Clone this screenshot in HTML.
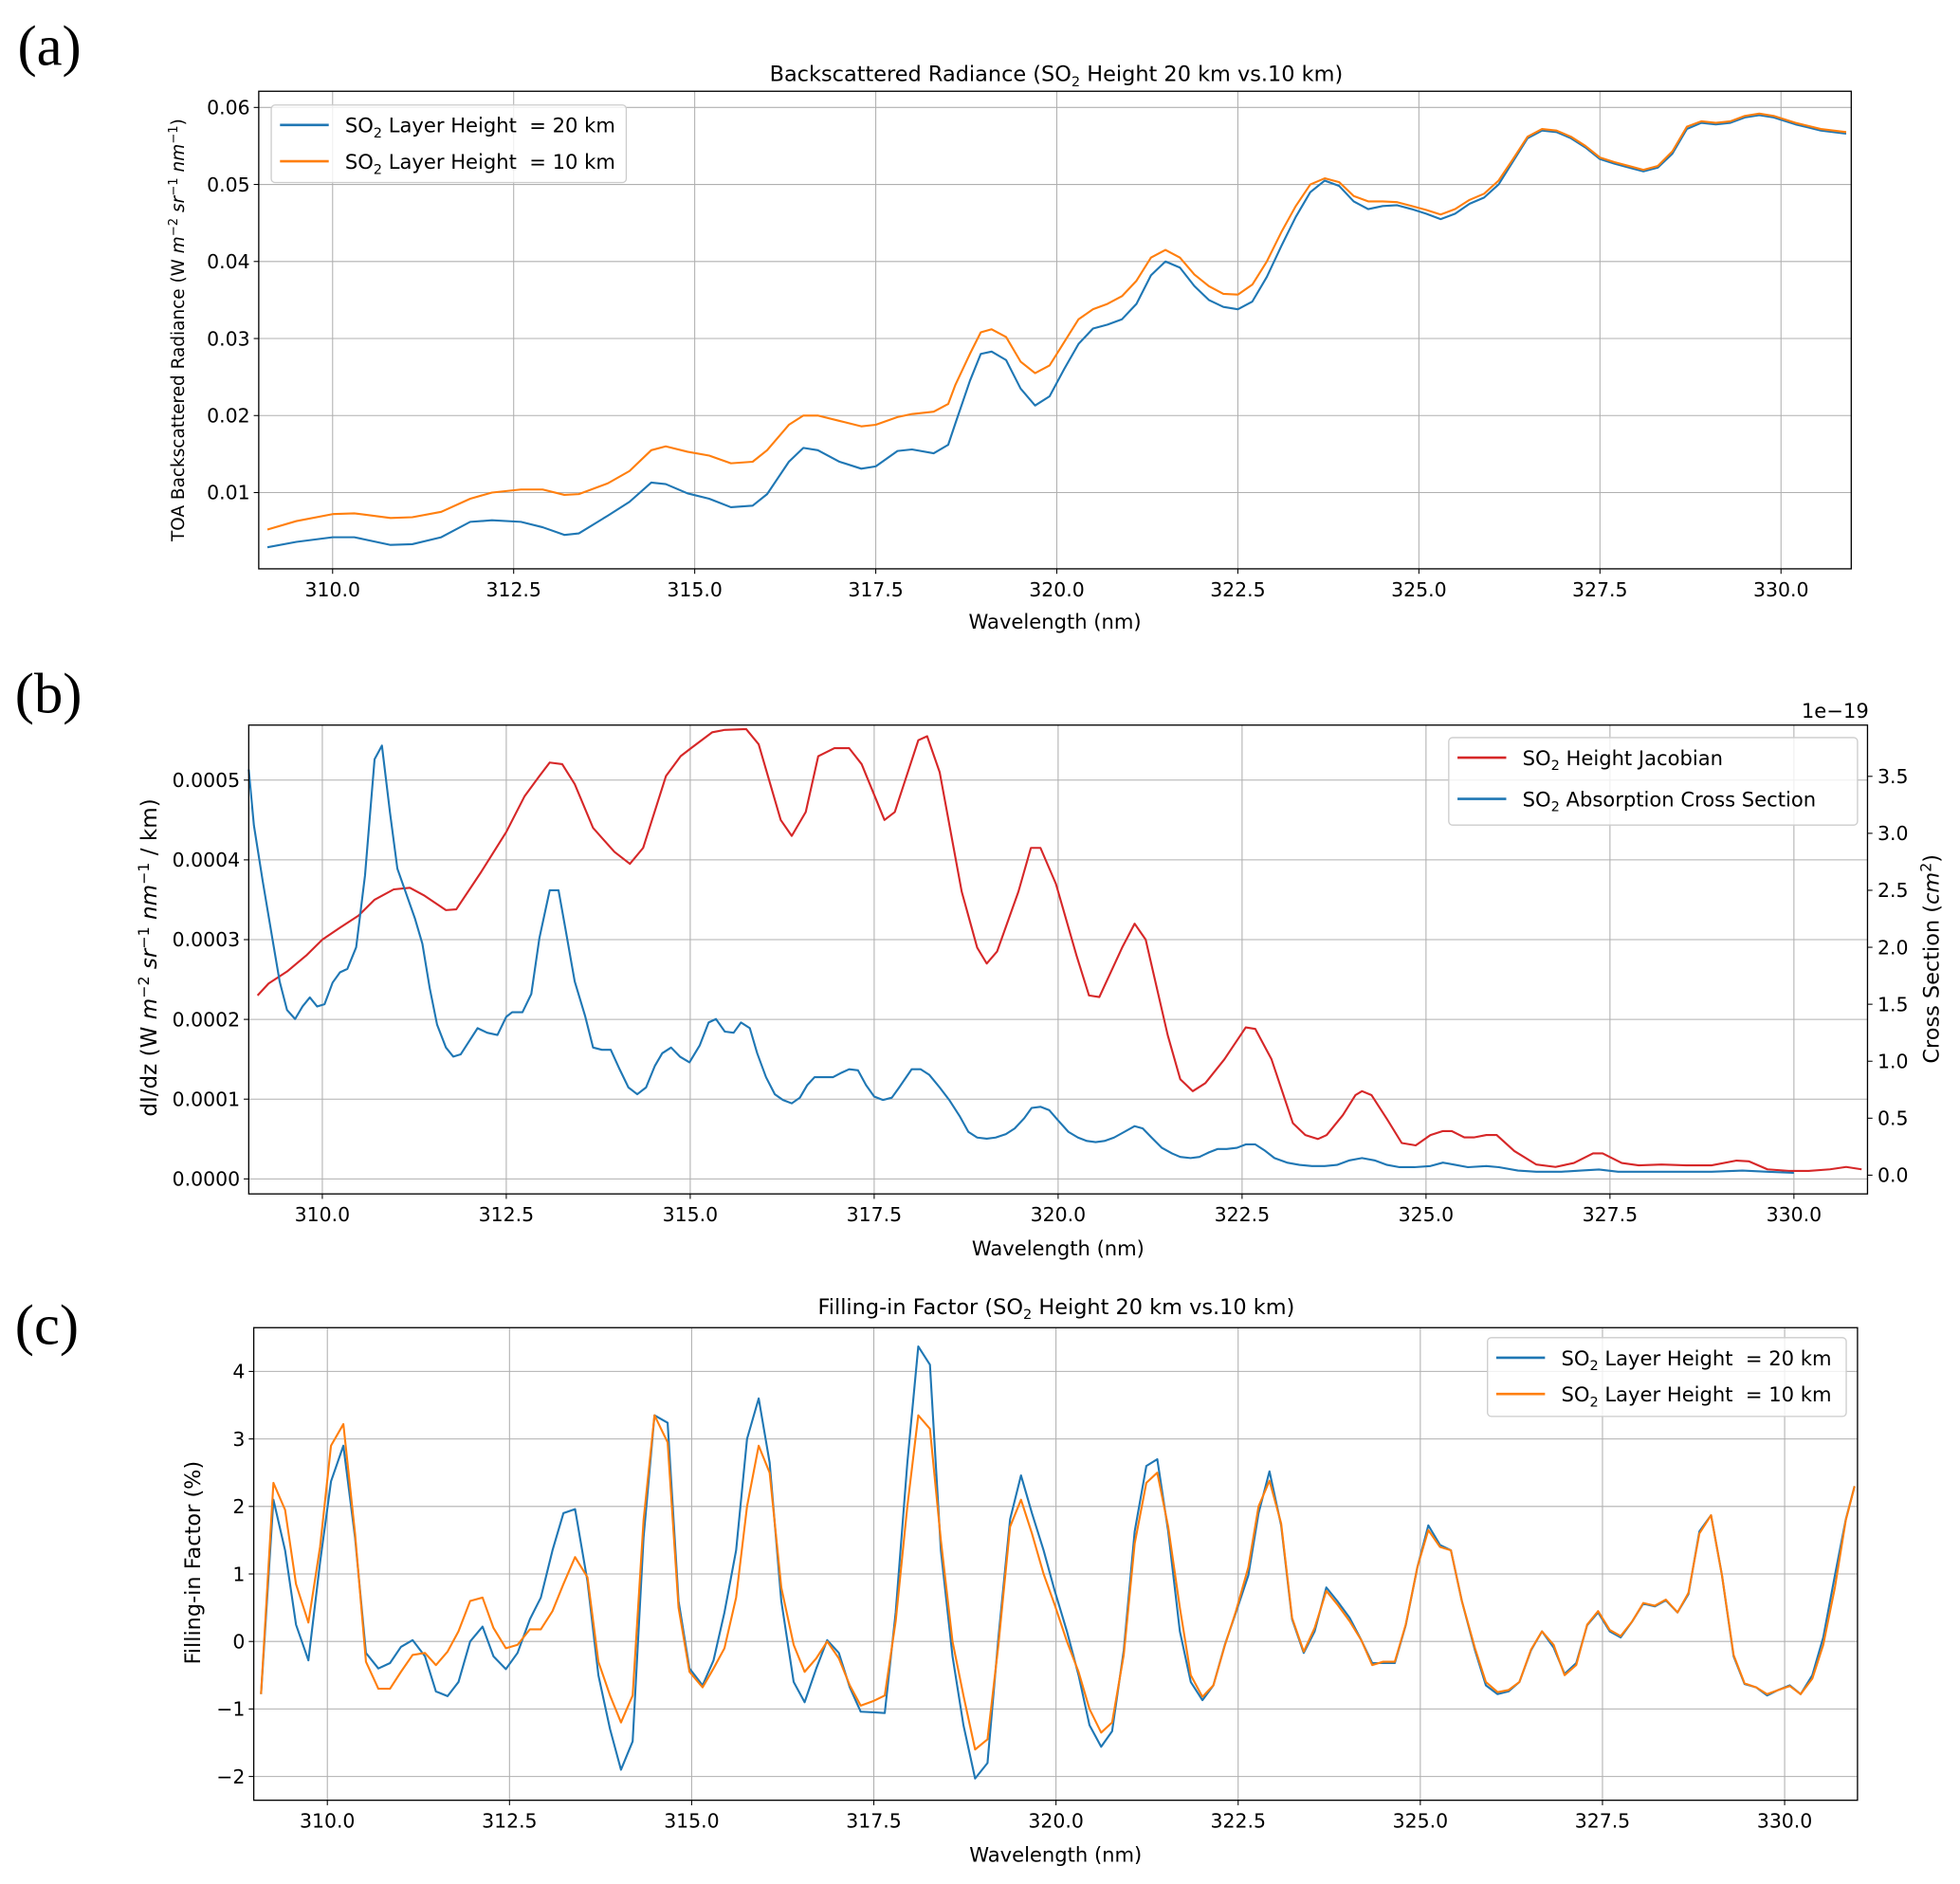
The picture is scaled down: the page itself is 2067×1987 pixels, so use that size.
<!DOCTYPE html>
<html><head><meta charset="utf-8"><style>
html,body{margin:0;padding:0;background:#fff;}
svg{display:block;font-family:"DejaVu Sans","Liberation Sans",sans-serif;}
text{white-space:pre;}
</style></head><body>
<svg id="fig" width="2067" height="1987" viewBox="0 0 1568 1507" preserveAspectRatio="none" xmlns="http://www.w3.org/2000/svg">
<text x="14" y="52" font-family="Liberation Serif" font-size="46">(a)</text>
<text x="12" y="570" font-family="Liberation Serif" font-size="46">(b)</text>
<text x="12" y="1075" font-family="Liberation Serif" font-size="46">(c)</text>
</svg>
<script>
// ---------- Panel (a) data ----------
const aWl=[309.1,309.5,310.0,310.3,310.8,311.1,311.5,311.9,312.2,312.6,312.9,313.2,313.4,313.8,314.1,314.4,314.6,314.9,315.2,315.5,315.8,316.0,316.3,316.5,316.7,317.0,317.3,317.5,317.8,318.0,318.3,318.5,318.6,318.8,318.95,319.1,319.3,319.5,319.7,319.9,320.1,320.3,320.5,320.7,320.9,321.1,321.3,321.5,321.7,321.9,322.1,322.3,322.5,322.7,322.9,323.1,323.3,323.5,323.7,323.9,324.1,324.3,324.5,324.7,324.9,325.1,325.3,325.5,325.7,325.9,326.1,326.3,326.5,326.7,326.9,327.1,327.3,327.5,327.7,327.9,328.1,328.3,328.5,328.7,328.9,329.1,329.3,329.5,329.7,329.9,330.2,330.55,330.9];
const aH20=[0.0029,0.0036,0.0042,0.0042,0.0032,0.0033,0.0042,0.0062,0.0064,0.0062,0.0055,0.0045,0.0047,0.0070,0.0088,0.0113,0.0111,0.0099,0.0092,0.0081,0.0083,0.0098,0.0140,0.0158,0.0155,0.0140,0.0131,0.0134,0.0154,0.0156,0.0151,0.0162,0.0190,0.0245,0.0280,0.0283,0.0272,0.0235,0.0213,0.0225,0.0260,0.0293,0.0313,0.0318,0.0325,0.0345,0.0382,0.0400,0.0392,0.0368,0.0350,0.0341,0.0338,0.0348,0.0380,0.0420,0.0458,0.0490,0.0505,0.0498,0.0478,0.0468,0.0472,0.0473,0.0468,0.0462,0.0455,0.0462,0.0475,0.0483,0.0500,0.0530,0.0560,0.0570,0.0568,0.0560,0.0548,0.0533,0.0527,0.0522,0.0517,0.0522,0.0540,0.0572,0.0580,0.0578,0.0580,0.0587,0.0590,0.0587,0.0578,0.0570,0.0566];
const aH10=[0.0052,0.0063,0.0072,0.0073,0.0067,0.0068,0.0075,0.0092,0.0100,0.0104,0.0104,0.0097,0.0098,0.0112,0.0128,0.0155,0.0160,0.0153,0.0148,0.0138,0.0140,0.0155,0.0188,0.0200,0.0200,0.0193,0.0186,0.0188,0.0198,0.0202,0.0205,0.0215,0.0240,0.0280,0.0308,0.0312,0.0302,0.0270,0.0255,0.0265,0.0295,0.0325,0.0338,0.0345,0.0355,0.0375,0.0405,0.0415,0.0405,0.0383,0.0368,0.0358,0.0357,0.0370,0.0400,0.0438,0.0472,0.0500,0.0508,0.0503,0.0485,0.0478,0.0478,0.0477,0.0472,0.0467,0.0461,0.0468,0.0480,0.0488,0.0505,0.0533,0.0562,0.0572,0.0570,0.0562,0.0550,0.0535,0.0529,0.0524,0.0519,0.0524,0.0543,0.0575,0.0582,0.0580,0.0582,0.0589,0.0592,0.0589,0.0580,0.0572,0.0568];
const aYTicks=[0.01,0.02,0.03,0.04,0.05,0.06];
const xTicks=[310.0,312.5,315.0,317.5,320.0,322.5,325.0,327.5,330.0];
// ---------- Panel (b) data ----------
const bJacWl=[309.12,309.27,309.52,309.78,310.00,310.24,310.49,310.71,310.97,311.19,311.39,311.68,311.82,312.16,312.50,312.75,312.95,313.09,313.26,313.43,313.68,313.97,314.18,314.36,314.67,314.87,315.01,315.30,315.47,315.76,315.93,316.23,316.38,316.57,316.74,316.96,317.16,317.33,317.64,317.78,318.10,318.22,318.39,318.69,318.90,319.03,319.17,319.46,319.63,319.76,319.97,320.25,320.42,320.56,320.87,321.04,321.19,321.49,321.66,321.83,322.00,322.26,322.55,322.68,322.90,323.19,323.36,323.53,323.65,323.87,324.04,324.13,324.26,324.47,324.67,324.86,325.06,325.23,325.35,325.52,325.65,325.82,325.96,326.20,326.50,326.76,327.01,327.27,327.40,327.66,327.89,328.20,328.54,328.88,329.22,329.39,329.64,329.93,330.20,330.49,330.71,330.92];
const bJac=[2.3,2.45,2.6,2.8,3.0,3.15,3.3,3.5,3.63,3.65,3.55,3.37,3.38,3.85,4.35,4.8,5.05,5.22,5.2,4.95,4.4,4.1,3.95,4.15,5.05,5.3,5.4,5.6,5.63,5.64,5.45,4.5,4.3,4.6,5.3,5.4,5.4,5.2,4.5,4.6,5.5,5.55,5.1,3.6,2.9,2.7,2.85,3.6,4.15,4.15,3.7,2.8,2.3,2.28,2.9,3.2,3.0,1.8,1.25,1.1,1.2,1.5,1.9,1.88,1.5,0.7,0.55,0.5,0.55,0.8,1.05,1.1,1.05,0.75,0.45,0.42,0.55,0.6,0.6,0.52,0.52,0.55,0.55,0.35,0.18,0.15,0.2,0.32,0.32,0.2,0.17,0.18,0.17,0.17,0.23,0.22,0.12,0.1,0.1,0.12,0.15,0.12]; // x1e-4
const bXsWl=[309.00,309.07,309.19,309.32,309.42,309.52,309.63,309.73,309.83,309.93,310.03,310.14,310.24,310.34,310.46,310.58,310.71,310.81,310.92,311.02,311.14,311.26,311.36,311.46,311.56,311.68,311.78,311.88,311.99,312.11,312.24,312.38,312.50,312.58,312.72,312.84,312.95,313.09,313.21,313.31,313.43,313.57,313.68,313.80,313.92,314.04,314.16,314.28,314.40,314.52,314.62,314.74,314.86,314.99,315.13,315.25,315.35,315.47,315.59,315.69,315.81,315.91,316.03,316.15,316.26,316.38,316.49,316.59,316.69,316.83,316.94,317.06,317.16,317.28,317.39,317.50,317.62,317.74,317.84,318.01,318.13,318.25,318.39,318.52,318.66,318.78,318.90,319.03,319.15,319.29,319.41,319.54,319.64,319.76,319.88,320.00,320.14,320.27,320.39,320.51,320.63,320.76,320.90,321.04,321.15,321.27,321.41,321.55,321.66,321.80,321.92,322.05,322.17,322.29,322.43,322.55,322.68,322.80,322.94,323.11,323.28,323.45,323.62,323.79,323.96,324.13,324.30,324.47,324.64,324.84,325.06,325.23,325.40,325.57,325.82,325.99,326.25,326.50,326.84,327.10,327.35,327.61,327.95,328.37,328.88,329.30,329.64,330.00];
const bXs=[3.56,3.07,2.58,2.08,1.70,1.45,1.37,1.48,1.56,1.48,1.50,1.69,1.78,1.81,2.00,2.63,3.65,3.77,3.18,2.69,2.47,2.25,2.03,1.64,1.32,1.12,1.04,1.06,1.17,1.29,1.25,1.23,1.39,1.43,1.43,1.59,2.08,2.50,2.50,2.14,1.70,1.40,1.12,1.10,1.10,0.93,0.77,0.71,0.77,0.96,1.07,1.12,1.04,0.99,1.14,1.34,1.37,1.26,1.25,1.34,1.29,1.07,0.86,0.71,0.66,0.63,0.68,0.79,0.86,0.86,0.86,0.90,0.93,0.92,0.79,0.69,0.66,0.68,0.77,0.93,0.93,0.88,0.77,0.66,0.52,0.38,0.33,0.32,0.33,0.36,0.41,0.50,0.59,0.60,0.57,0.48,0.38,0.33,0.30,0.29,0.30,0.33,0.38,0.43,0.41,0.33,0.24,0.19,0.16,0.15,0.16,0.20,0.23,0.23,0.24,0.27,0.27,0.22,0.15,0.11,0.09,0.08,0.08,0.09,0.13,0.15,0.13,0.09,0.07,0.07,0.08,0.11,0.09,0.07,0.08,0.07,0.04,0.03,0.03,0.04,0.05,0.03,0.03,0.03,0.03,0.04,0.03,0.02]; // x1e-19
const bLeftTicks=[0.0000,0.0001,0.0002,0.0003,0.0004,0.0005];
const bRightTicks=[0.0,0.5,1.0,1.5,2.0,2.5,3.0,3.5];
// ---------- Panel (c) data ----------
const cWl=[309.09,309.26,309.42,309.57,309.74,309.90,310.05,310.22,310.38,310.53,310.70,310.86,311.01,311.17,311.34,311.49,311.65,311.80,311.96,312.13,312.28,312.45,312.61,312.78,312.93,313.09,313.24,313.40,313.57,313.72,313.88,314.03,314.19,314.34,314.49,314.67,314.82,314.97,315.15,315.30,315.45,315.61,315.76,315.92,316.07,316.23,316.40,316.55,316.71,316.86,317.02,317.17,317.32,317.50,317.65,317.80,317.96,318.11,318.27,318.42,318.58,318.73,318.89,319.06,319.21,319.37,319.52,319.67,319.83,319.98,320.15,320.31,320.46,320.62,320.77,320.93,321.08,321.24,321.39,321.54,321.70,321.85,322.01,322.16,322.32,322.47,322.64,322.78,322.93,323.09,323.24,323.40,323.55,323.71,323.86,324.03,324.19,324.34,324.49,324.65,324.80,324.96,325.11,325.27,325.42,325.57,325.75,325.90,326.06,326.21,326.36,326.52,326.67,326.83,326.98,327.14,327.29,327.44,327.60,327.75,327.91,328.06,328.22,328.37,328.53,328.68,328.83,328.99,329.14,329.30,329.45,329.61,329.76,329.91,330.07,330.22,330.38,330.53,330.69,330.84,330.96];
const cH20=[-0.78,2.1,1.35,0.25,-0.28,1.17,2.37,2.9,1.54,-0.17,-0.4,-0.32,-0.08,0.02,-0.22,-0.74,-0.81,-0.6,0,0.22,-0.22,-0.41,-0.17,0.33,0.65,1.35,1.9,1.96,0.89,-0.5,-1.3,-1.9,-1.48,1.54,3.35,3.24,0.6,-0.4,-0.65,-0.28,0.43,1.35,3.0,3.6,2.65,0.6,-0.6,-0.9,-0.4,0.02,-0.17,-0.68,-1.04,-1.05,-1.06,0.43,2.65,4.37,4.1,1.35,-0.22,-1.24,-2.03,-1.8,0.06,1.81,2.46,1.9,1.35,0.76,0.15,-0.5,-1.24,-1.56,-1.33,-0.13,1.63,2.6,2.7,1.63,0.15,-0.6,-0.87,-0.65,-0.04,0.43,0.98,1.9,2.52,1.72,0.33,-0.17,0.15,0.8,0.6,0.35,0.02,-0.32,-0.32,-0.32,0.24,1.1,1.72,1.43,1.35,0.6,-0.13,-0.65,-0.78,-0.74,-0.6,-0.13,0.15,-0.09,-0.48,-0.32,0.24,0.43,0.15,0.06,0.3,0.56,0.52,0.61,0.43,0.7,1.63,1.87,0.98,-0.22,-0.63,-0.68,-0.8,-0.72,-0.65,-0.78,-0.5,0.06,0.98,1.81,2.3];
const cH10=[-0.78,2.35,1.95,0.85,0.28,1.4,2.9,3.22,1.6,-0.3,-0.7,-0.7,-0.45,-0.2,-0.17,-0.35,-0.15,0.15,0.6,0.65,0.2,-0.1,-0.05,0.18,0.18,0.45,0.85,1.25,0.95,-0.3,-0.8,-1.2,-0.8,1.8,3.35,2.95,0.5,-0.45,-0.68,-0.4,-0.1,0.65,2.0,2.9,2.5,0.8,-0.05,-0.45,-0.25,0.0,-0.25,-0.65,-0.95,-0.88,-0.8,0.3,2.0,3.35,3.15,1.5,0.0,-0.8,-1.6,-1.45,-0.05,1.7,2.1,1.6,1.0,0.55,0.0,-0.45,-1.0,-1.35,-1.2,-0.2,1.45,2.35,2.5,1.7,0.5,-0.5,-0.82,-0.65,-0.05,0.45,1.1,2.0,2.38,1.75,0.35,-0.15,0.2,0.75,0.55,0.3,0.02,-0.35,-0.3,-0.3,0.25,1.1,1.65,1.4,1.35,0.6,-0.1,-0.6,-0.75,-0.72,-0.6,-0.12,0.15,-0.05,-0.5,-0.35,0.25,0.45,0.17,0.08,0.3,0.57,0.53,0.62,0.43,0.72,1.6,1.87,0.98,-0.2,-0.62,-0.68,-0.78,-0.72,-0.66,-0.78,-0.55,-0.05,0.8,1.8,2.3];
const cYTicks=[-2,-1,0,1,2,3,4];

const NS='http://www.w3.org/2000/svg';
const svg=document.getElementById('fig');
function mk(tag,attrs,parent){const e=document.createElementNS(NS,tag);for(const k in attrs)e.setAttribute(k,attrs[k]);(parent||svg).appendChild(e);return e;}
function scale(d0,d1,r0,r1){return v=>r0+(v-d0)*(r1-r0)/(d1-d0);}
function grid(g,L,R,T,B,sx,sy,xt,yt){
  xt.forEach(v=>{const l=mk('line',{x1:sx(v),x2:sx(v),y1:T,y2:B,stroke:'#b0b0b0','stroke-width':0.8},g);
    
    });
  yt.forEach(v=>{const l=mk('line',{x1:L,x2:R,y1:sy(v),y2:sy(v),stroke:'#b0b0b0','stroke-width':0.8},g);
    
    });
}
function xAxis(g,L,R,B,sx,lbl,ly){
  xTicks.forEach(v=>{const x=sx(v);mk('line',{x1:x,x2:x,y1:B,y2:B+4,stroke:'#000','stroke-width':0.8},g);
    const t=mk('text',{x:x,y:B+22,'font-size':15.5,'text-anchor':'middle'},g);t.textContent=v.toFixed(1);
    
    });
  const t=mk('text',{x:(L+R)/2,y:ly,'font-size':16,'text-anchor':'middle'},g);t.textContent=lbl;
  
  
}
function yAxis(g,L,sy,ticks,fmt,right){
  ticks.forEach(v=>{const y=sy(v);
    mk('line',{x1:right?L:L-4,x2:right?L+4:L,y1:y,y2:y,stroke:'#000','stroke-width':0.8},g);
    const t=mk('text',{x:right?L+8:L-7,y:y+5.5,'font-size':15.5,'text-anchor':right?'start':'end'},g);t.textContent=fmt(v);
    
    });
}
function line(g,xs,ys,sx,sy,color,name){
  const d=xs.map((x,i)=>(i?'L':'M')+sx(x).toFixed(2)+','+sy(ys[i]).toFixed(2)).join('');
  const p=mk('path',{d:d,fill:'none',stroke:color,'stroke-width':1.6,'stroke-linejoin':'round'},g);
  
  
}
function frame(g,L,R,T,B){mk('rect',{x:L,y:T,width:R-L,height:B-T,fill:'none',stroke:'#000','stroke-width':1},g);}
function legend(g,x,y,w,h,items,gap){
  const r=mk('rect',{x:x,y:y,width:w,height:h,fill:'#fff','fill-opacity':0.8,stroke:'#ccc','stroke-width':1,rx:3},g);
  
  
  items.forEach((it,i)=>{const yy=y+16+i*(gap||29);
    mk('line',{x1:x+7,x2:x+46,y1:yy,y2:yy,stroke:it.c,'stroke-width':2},g);
    const t=mk('text',{x:x+59,y:yy+6,'font-size':16},g);t.innerHTML=it.html;
    
    });
}
const sub='<tspan dy="4" font-size="11">2</tspan><tspan dy="-4">';
// Panel a
{const g=mk('g',{});
 const L=207,R=1481,T=73,B=455;const sx=scale(308.98,330.97,L,R),sy=scale(0.0001,0.0621,B,T);
 grid(g,L,R,T,B,sx,sy,xTicks,aYTicks);
 line(g,aWl,aH20,sx,sy,'#1f77b4','line-20km');line(g,aWl,aH10,sx,sy,'#ff7f0e','line-10km');
 frame(g,L,R,T,B);xAxis(g,L,R,B,sx,'Wavelength (nm)',503);yAxis(g,L,sy,aYTicks,v=>v.toFixed(2));
 const t=mk('text',{x:845,y:65,'font-size':17,'text-anchor':'middle'},g);t.innerHTML='Backscattered Radiance (SO'+sub+' Height 20 km vs.10 km)</tspan>';
 
 const yl=mk('text',{transform:'translate(147,264) rotate(-90)','font-size':14,'text-anchor':'middle'},g);yl.innerHTML='TOA Backscattered Radiance (W <tspan font-style="italic">m</tspan><tspan dy="-5" font-size="10">−2</tspan><tspan dy="5"> <tspan font-style="italic">sr</tspan></tspan><tspan dy="-5" font-size="10">−1</tspan><tspan dy="5"> <tspan font-style="italic">nm</tspan></tspan><tspan dy="-5" font-size="10">−1</tspan><tspan dy="5">)</tspan>';
 
 legend(g,217,84,284,62,[{c:'#1f77b4',html:'SO'+sub+' Layer Height  = 20 km</tspan>'},{c:'#ff7f0e',html:'SO'+sub+' Layer Height  = 10 km</tspan>'}]);}
// Panel b
{const g=mk('g',{});
 const L=199,R=1494,T=580,B=955;const sx=scale(309.0,331.0,L,R),sy=scale(0,0.0005,943,624),sr=scale(0,3.5,940,621);
 grid(g,L,R,T,B,sx,sy,xTicks,bLeftTicks);
 line(g,bJacWl,bJac.map(v=>v*1e-4),sx,sy,'#d62728','line-height-jacobian');
 line(g,bXsWl,bXs,sx,sr,'#1f77b4','line-cross-section');
 frame(g,L,R,T,B);xAxis(g,L,R,B,sx,'Wavelength (nm)',1004);yAxis(g,L,sy,bLeftTicks,v=>v.toFixed(4));yAxis(g,R,sr,bRightTicks,v=>v.toFixed(1),true);
 const e=mk('text',{x:1495,y:574,'font-size':16,'text-anchor':'end'},g);e.textContent='1e−19';
 const yl=mk('text',{transform:'translate(125,766) rotate(-90)','font-size':17.5,'text-anchor':'middle'},g);yl.innerHTML='dI/dz (W <tspan font-style="italic">m</tspan><tspan dy="-6" font-size="12">−2</tspan><tspan dy="6"> <tspan font-style="italic">sr</tspan></tspan><tspan dy="-6" font-size="12">−1</tspan><tspan dy="6"> <tspan font-style="italic">nm</tspan></tspan><tspan dy="-6" font-size="12">−1</tspan><tspan dy="6"> / km)</tspan>';
 
 const yr=mk('text',{transform:'translate(1551,767) rotate(-90)','font-size':17,'text-anchor':'middle'},g);yr.innerHTML='Cross Section (<tspan font-style="italic">cm</tspan><tspan dy="-6" font-size="12">2</tspan><tspan dy="6">)</tspan>';
 
 legend(g,1159,590,327,70,[{c:'#d62728',html:'SO'+sub+' Height Jacobian</tspan>'},{c:'#1f77b4',html:'SO'+sub+' Absorption Cross Section</tspan>'}],33);}
// Panel c
{const g=mk('g',{});
 const L=203,R=1486,T=1062,B=1440;const sx=scale(308.99,331.0,L,R),sy=scale(0,4,1313,1097);
 grid(g,L,R,T,B,sx,sy,xTicks,cYTicks);
 line(g,cWl,cH20,sx,sy,'#1f77b4','line-20km');line(g,cWl,cH10,sx,sy,'#ff7f0e','line-10km');
 frame(g,L,R,T,B);xAxis(g,L,R,B,sx,'Wavelength (nm)',1489);yAxis(g,L,sy,cYTicks,v=>v<0?'−'+Math.abs(v):String(v));
 const t=mk('text',{x:845,y:1051,'font-size':17,'text-anchor':'middle'},g);t.innerHTML='Filling-in Factor (SO'+sub+' Height 20 km vs.10 km)</tspan>';
 
 const yl=mk('text',{transform:'translate(160,1250) rotate(-90)','font-size':17,'text-anchor':'middle'},g);yl.textContent='Filling-in Factor (%)';
 
 legend(g,1190,1070,287,63,[{c:'#1f77b4',html:'SO'+sub+' Layer Height  = 20 km</tspan>'},{c:'#ff7f0e',html:'SO'+sub+' Layer Height  = 10 km</tspan>'}]);}
</script>
</body></html>
